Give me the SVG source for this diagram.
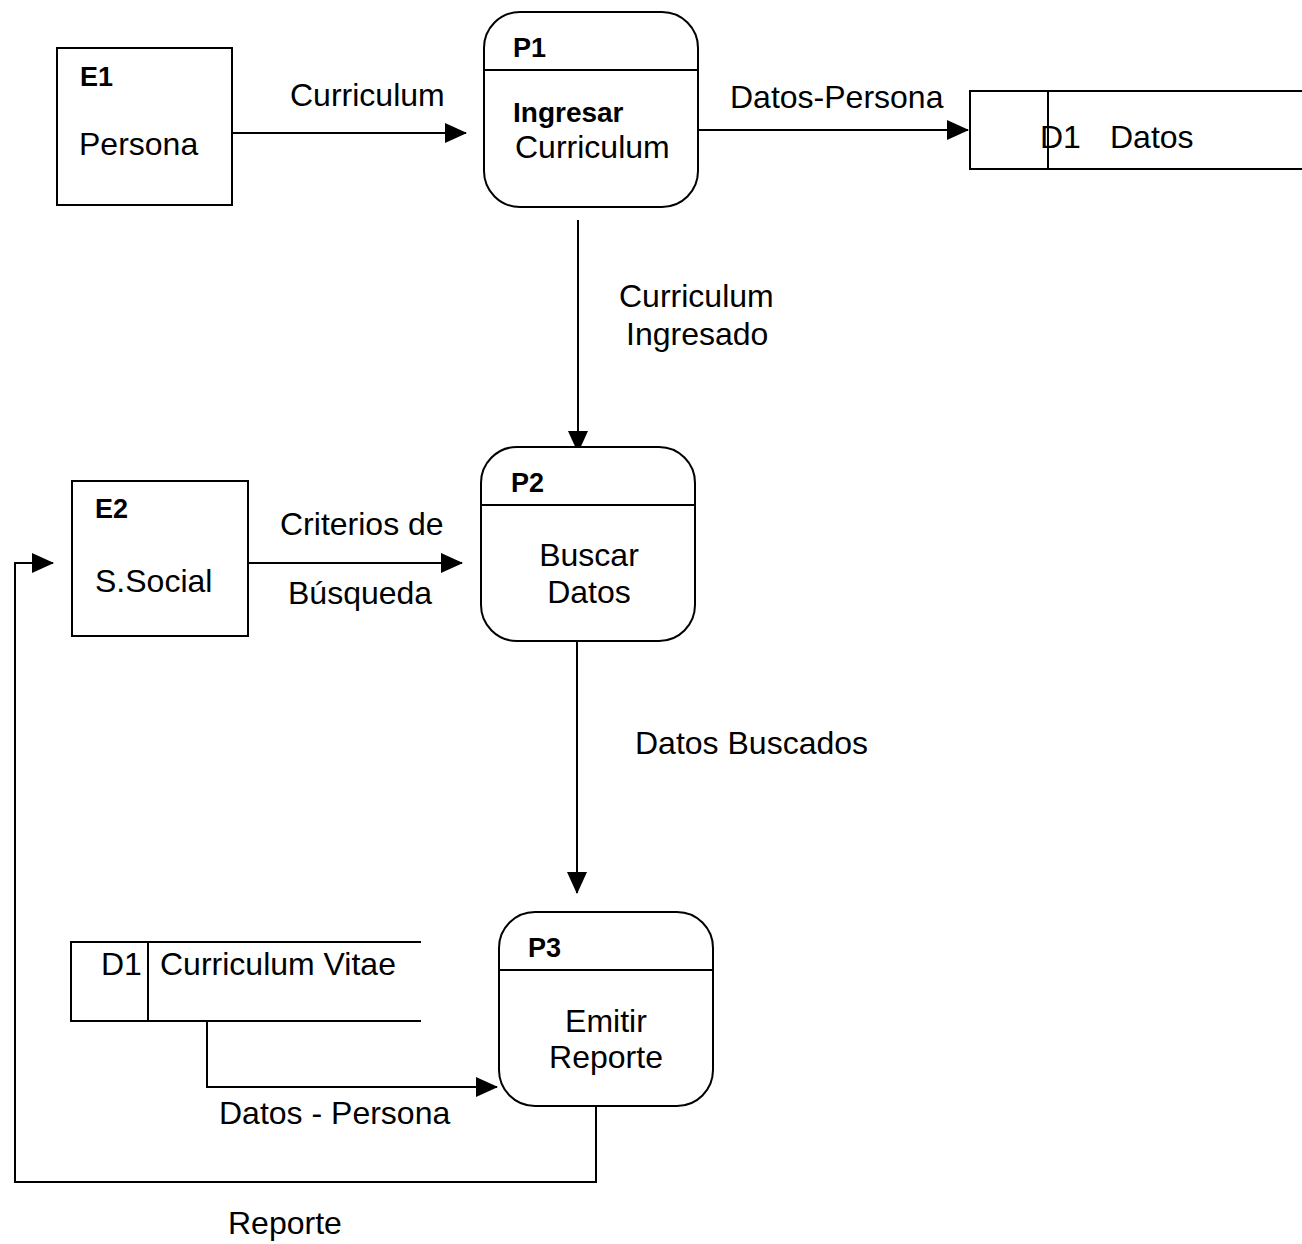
<svg xmlns="http://www.w3.org/2000/svg" width="1302" height="1244" viewBox="0 0 1302 1244">
<style>
.box{fill:#fff;stroke:#000;stroke-width:2}
.ln{fill:none;stroke:#000;stroke-width:2}
.t{font-family:"Liberation Sans",Arial,sans-serif;font-size:32px;fill:#000}
.b{font-family:"Liberation Sans",Arial,sans-serif;font-size:27px;font-weight:bold;fill:#000}
.bi{font-family:"Liberation Sans",Arial,sans-serif;font-size:28px;font-weight:bold;fill:#000}
</style>
<defs>
<marker id="ah" markerWidth="22" markerHeight="20" refX="21" refY="10" orient="auto" markerUnits="userSpaceOnUse">
<path d="M0,0 L22,10 L0,20 z" fill="#000"/>
</marker>
</defs>
<rect width="1302" height="1244" fill="#fff"/>
<g id="connectors">
<line class="ln" x1="232" y1="133" x2="466" y2="133" marker-end="url(#ah)"/>
<text class="t" x="290" y="106">Curriculum</text>
<line class="ln" x1="698" y1="130" x2="968" y2="130" marker-end="url(#ah)"/>
<text class="t" x="730" y="108">Datos-Persona</text>
<line class="ln" x1="578" y1="220" x2="578" y2="452" marker-end="url(#ah)"/>
<text class="t" x="619" y="307">Curriculum</text>
<text class="t" x="626" y="345">Ingresado</text>
<line class="ln" x1="248" y1="563" x2="462" y2="563" marker-end="url(#ah)"/>
<text class="t" x="280" y="535">Criterios de</text>
<text class="t" x="288" y="604">Búsqueda</text>
<line class="ln" x1="577" y1="642" x2="577" y2="893" marker-end="url(#ah)"/>
<text class="t" x="635" y="754">Datos Buscados</text>
<polyline class="ln" points="207,1021 207,1087 497,1087" marker-end="url(#ah)"/>
<text class="t" x="219" y="1124">Datos - Persona</text>
<polyline class="ln" points="596,1106 596,1182 15,1182 15,563 53,563" marker-end="url(#ah)"/>
<text class="t" x="228" y="1234">Reporte</text>
</g>
<g id="E1">
<rect class="box" x="57" y="48" width="175" height="157"/>
<text class="b" x="80" y="86">E1</text>
<text class="t" x="79" y="155">Persona</text>
</g>
<g id="P1">
<rect class="box" x="484" y="12" width="214" height="195" rx="36"/>
<line class="ln" x1="484" y1="70" x2="698" y2="70"/>
<text class="b" x="513" y="57">P1</text>
<text class="bi" x="513" y="122">Ingresar</text>
<text class="t" x="515" y="158">Curriculum</text>
</g>
<g id="D1a">
<polyline class="ln" points="1302,91 970,91 970,169 1302,169"/>
<line class="ln" x1="1048" y1="91" x2="1048" y2="169"/>
<text class="t" x="1040" y="148">D1</text>
<text class="t" x="1110" y="148">Datos</text>
</g>
<g id="E2">
<rect class="box" x="72" y="481" width="176" height="155"/>
<text class="b" x="95" y="518">E2</text>
<text class="t" x="95" y="592">S.Social</text>
</g>
<g id="P2">
<rect class="box" x="481" y="447" width="214" height="194" rx="36"/>
<line class="ln" x1="481" y1="505" x2="695" y2="505"/>
<text class="b" x="511" y="492">P2</text>
<text class="t" x="589" y="566" text-anchor="middle">Buscar</text>
<text class="t" x="589" y="603" text-anchor="middle">Datos</text>
</g>
<g id="P3">
<rect class="box" x="499" y="912" width="214" height="194" rx="36"/>
<line class="ln" x1="499" y1="970" x2="713" y2="970"/>
<text class="b" x="528" y="957">P3</text>
<text class="t" x="606" y="1032" text-anchor="middle">Emitir</text>
<text class="t" x="606" y="1068" text-anchor="middle">Reporte</text>
</g>
<g id="D1b">
<polyline class="ln" points="421,942 71,942 71,1021 421,1021"/>
<line class="ln" x1="148" y1="942" x2="148" y2="1021"/>
<text class="t" x="101" y="975">D1</text>
<text class="t" x="160" y="975">Curriculum Vitae</text>
</g>
</svg>
